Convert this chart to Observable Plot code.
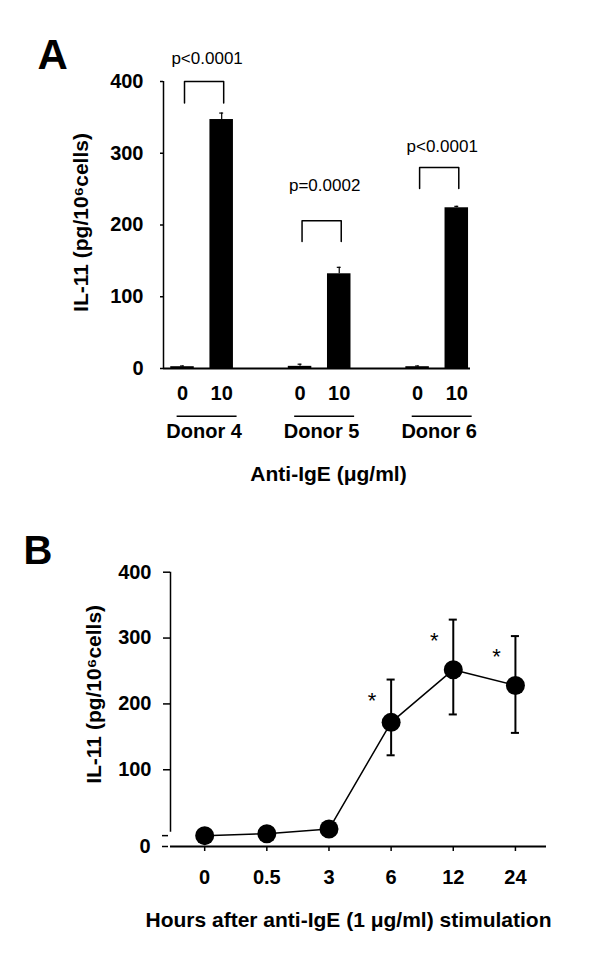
<!DOCTYPE html>
<html>
<head>
<meta charset="utf-8">
<script src="https://cdn.jsdelivr.net/npm/d3@7"></script>
<script src="https://cdn.jsdelivr.net/npm/@observablehq/plot@0.6"></script>
<style>
  body { margin: 0; background: #fff; }
  #chart { width: 600px; }
  #chart svg { display: block; }
</style>
</head>
<body>
<div id="chart"></div>
<script>
// ---------- Panel A data ----------
const donors = ["Donor 4", "Donor 5", "Donor 6"];
const doses = ["0", "10"];                       // anti-IgE µg/ml
const il11Mean = [[2.5, 347], [3, 132], [2.5, 224]];
const il11Err  = [[1, 9], [3, 9], [1, 2]];
const pLabels = ["p<0.0001", "p=0.0002", "p<0.0001"];
const bracketTop = [400, 206, 280];
const bracketLeg = [370, 177, 251];
const pLabelY = [425, 247, 302];
const yTicksA = [0, 100, 200, 300, 400];

// ---------- Panel B data ----------
const hours = ["0", "0.5", "3", "6", "12", "24"];
const il11Time = [0, 3, 10, 172, 252, 228];
const il11Lo = [null, null, null, 122, 184, 156];
const il11Hi = [null, null, null, 237, 328, 303];
const significant = [false, false, false, true, true, true];
const yTicksB = [100, 200, 300, 400];

const FONT = "'Liberation Sans', Arial, Helvetica, sans-serif";

// ---------- Panel A ----------
const groupGap = 3;
const xPos = (g, k) => g * groupGap + k;
const barRows = [];
donors.forEach((d, g) => doses.forEach((dose, k) => {
  barRows.push({donor: d, dose, x: xPos(g, k), v: il11Mean[g][k], e: il11Err[g][k]});
}));
const groupRows = donors.map((d, g) => ({
  donor: d, c: xPos(g, 0.5), x0: xPos(g, 0), x1: xPos(g, 1),
  top: bracketTop[g], leg: bracketLeg[g], p: pLabels[g], py: pLabelY[g]
}));
const bracketPts = groupRows.flatMap(r => [
  {donor: r.donor, x: r.x0, y: r.leg},
  {donor: r.donor, x: r.x0, y: r.top},
  {donor: r.donor, x: r.x1, y: r.top},
  {donor: r.donor, x: r.x1, y: r.leg}
]);
const xDomainA = [-0.485, 7.35];
const halfBar = 0.3;
const capA = 0.05;

const plotA = Plot.plot({
  width: 600, height: 495,
  marginLeft: 163, marginRight: 130, marginTop: 81, marginBottom: 127,
  style: {fontFamily: FONT, fontSize: "20px", fontWeight: "bold", color: "black", background: "white"},
  x: {type: "linear", domain: xDomainA},
  y: {domain: [0, 400]},
  marks: [
    Plot.axisY({ticks: yTicksA, tickSize: 3, tickPadding: 17, strokeWidth: 1.5, label: null}),
    Plot.axisX({ticks: barRows.map(d => d.x), tickFormat: v => doses[v % groupGap], tickSize: 0, tickPadding: 17, label: null}),
    Plot.ruleX([xDomainA[0]], {y1: () => 0, y2: () => 400, strokeWidth: 1.5}),
    Plot.rect(barRows, {x1: d => d.x - halfBar, x2: d => d.x + halfBar, y1: () => 0, y2: "v", fill: "black"}),
    Plot.ruleX(barRows, {x: "x", y1: "v", y2: d => d.v + d.e, strokeWidth: 1.2}),
    Plot.ruleY(barRows, {y: d => d.v + d.e, x1: d => d.x - capA, x2: d => d.x + capA, strokeWidth: 1.2}),
    Plot.ruleY([0], {strokeWidth: 2}),
    Plot.line(bracketPts, {x: "x", y: "y", z: "donor", strokeWidth: 1.5, dx: 2}),
    Plot.text(groupRows, {x: "c", y: "py", text: "p", dx: 5, lineAnchor: "bottom", fontSize: 17, fontWeight: "normal"}),
    Plot.ruleY(groupRows, {y: () => 0, x1: d => d.c - 0.765, x2: d => d.c + 0.765, dy: 47.7, dx: 5, strokeWidth: 1.5}),
    Plot.text(groupRows, {x: "c", y: () => 0, text: "donor", dy: 69, dx: 2, lineAnchor: "bottom", fontSize: 20}),
    Plot.text(["Anti-IgE (μg/ml)"], {frameAnchor: "bottom", text: d => d, dx: 11.5, dy: 112, textAnchor: "middle", lineAnchor: "bottom", fontSize: 21}),
    Plot.text(["IL-11 (pg/10⁶cells)"], {frameAnchor: "left", text: d => d, rotate: -90, dx: -76, dy: -2.5, textAnchor: "middle", lineAnchor: "bottom", fontSize: 21}),
    Plot.text(["A"], {frameAnchor: "top-left", text: d => d, dx: -126, dy: -13, textAnchor: "start", lineAnchor: "bottom", fontSize: 42})
  ]
});

// ---------- Panel B ----------
const rowsB = hours.map((h, i) => ({h, i, v: il11Time[i], lo: il11Lo[i], hi: il11Hi[i], sig: significant[i]}));
const errRows = rowsB.filter(d => d.lo != null);
const xDomainB = [-0.55, 5.5];
const yDomainB = [-16.5, 400];
const axisBreakTop = 5;
const capB = 0.065;

const plotB = Plot.plot({
  width: 600, height: 462,
  marginLeft: 170, marginRight: 54, marginTop: 76.7, marginBottom: 111,
  style: {fontFamily: FONT, fontSize: "20px", fontWeight: "bold", color: "black", background: "white"},
  x: {type: "linear", domain: xDomainB},
  y: {domain: yDomainB},
  marks: [
    Plot.axisY({ticks: yTicksB, tickSize: 7, tickPadding: 12, strokeWidth: 1.5, label: null}),
    Plot.axisY({ticks: [0], tickSize: 6, tickFormat: () => "", strokeWidth: 1.5, dx: -2, label: null}),
    Plot.axisY({ticks: [yDomainB[0]], tickSize: 6, tickPadding: 12, tickFormat: () => "0", strokeWidth: 1.5, dx: -2, label: null}),
    Plot.axisX({ticks: d3.range(hours.length), tickFormat: i => hours[i], tickSize: 5, tickPadding: 18, strokeWidth: 1.5, label: null}),
    Plot.ruleX([xDomainB[0]], {y1: () => axisBreakTop, y2: () => 400, strokeWidth: 1.5}),
    Plot.ruleY([yDomainB[0]], {strokeWidth: 2}),
    Plot.line(rowsB, {x: "i", y: "v", strokeWidth: 1.5}),
    Plot.ruleX(errRows, {x: "i", y1: "lo", y2: "hi", strokeWidth: 2}),
    Plot.ruleY(errRows, {y: "hi", x1: d => d.i - capB, x2: d => d.i + capB, strokeWidth: 2}),
    Plot.ruleY(errRows, {y: "lo", x1: d => d.i - capB, x2: d => d.i + capB, strokeWidth: 2}),
    Plot.dot(rowsB, {x: "i", y: "v", r: 9.5, fill: "black", stroke: "none"}),
    Plot.text(rowsB.filter(d => d.sig), {x: "i", y: d => d.hi - 32, text: () => "*", dx: -19, fontSize: 22, fontWeight: "normal"}),
    Plot.text(["Hours after anti-IgE (1 μg/ml) stimulation"], {frameAnchor: "bottom", text: d => d, dx: -10, dy: 80, textAnchor: "middle", lineAnchor: "bottom", fontSize: 21}),
    Plot.text(["IL-11 (pg/10⁶cells)"], {frameAnchor: "left", text: d => d, rotate: -90, dx: -70, dy: -15, textAnchor: "middle", lineAnchor: "bottom", fontSize: 21}),
    Plot.text(["B"], {frameAnchor: "top-left", text: d => d, dx: -147, dy: -8.7, textAnchor: "start", lineAnchor: "bottom", fontSize: 40})
  ]
});

document.getElementById("chart").append(plotA, plotB);
</script>
</body>
</html>
